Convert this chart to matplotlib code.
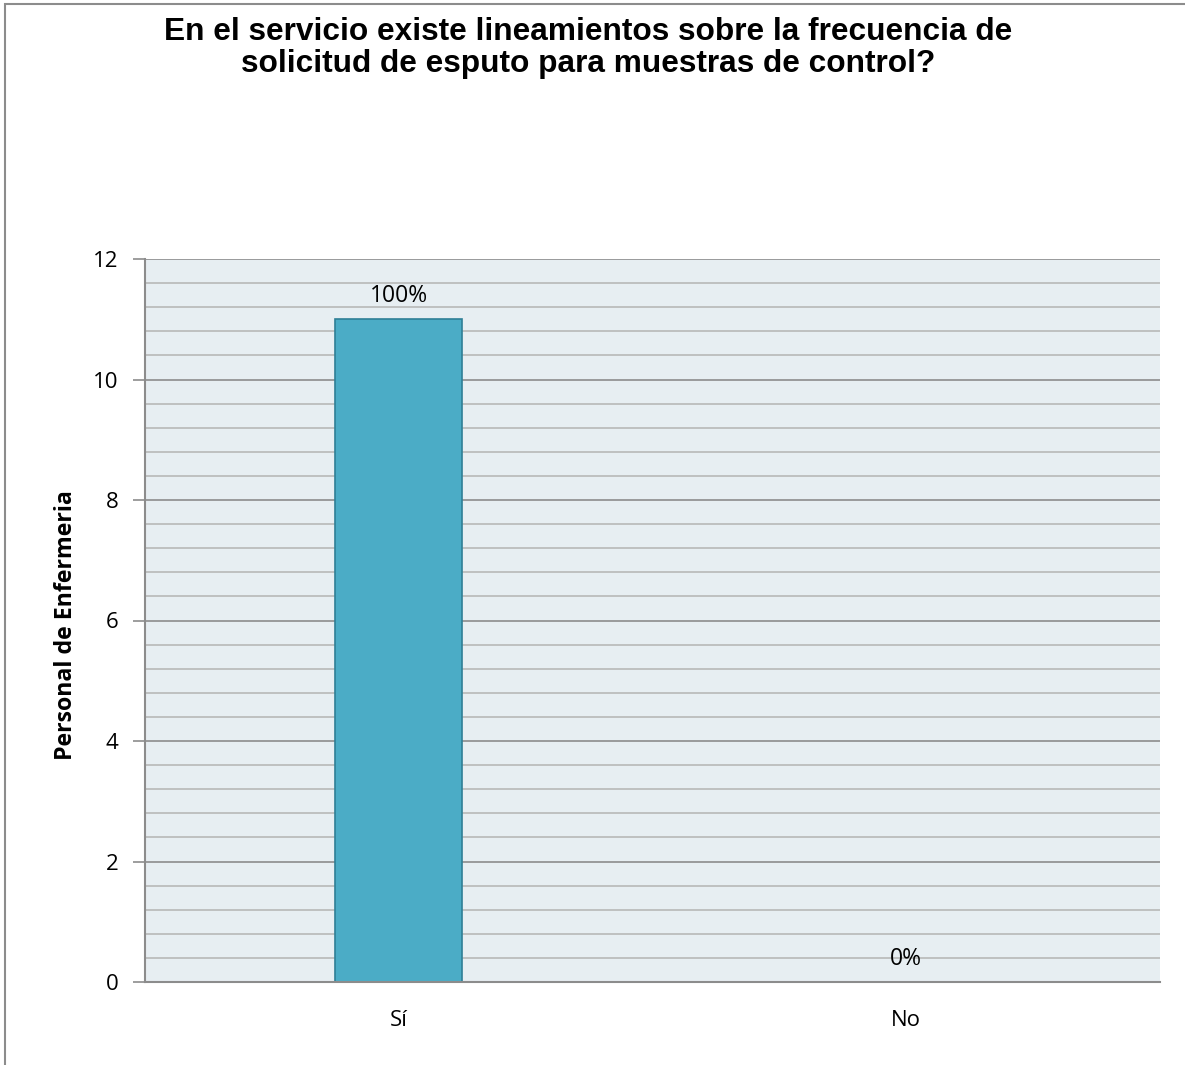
import matplotlib
matplotlib.use("Agg")
import matplotlib.pyplot as plt
from matplotlib.ticker import MultipleLocator
from matplotlib.patches import Rectangle

categories = ["Sí", "No"]
values = [11, 0]
pct_labels = ["100%", "0%"]
title = "En el servicio existe lineamientos sobre la frecuencia de\nsolicitud de esputo para muestras de control?"
ylabel = "Personal de Enfermeria"

fig = plt.figure(figsize=(11.85, 10.65), dpi=100)
W, H = 1185, 1065
# figure border (left & top visible)
fig.add_artist(Rectangle((5 / W, -0.1), 1.2, (1065 - 4) / H + 0.1, transform=fig.transFigure,
                         fill=False, edgecolor="#8c8c8c", linewidth=1.5))

left, right, top, bottom = 145, 1160, 259, 982
ax = fig.add_axes([left / W, 1 - bottom / H, (right - left) / W, (bottom - top) / H])
ax.set_facecolor("#E7EEF2")

x = list(range(len(categories)))
bars = ax.bar(x, values, width=0.25, color="#4BACC6", edgecolor="#2F7F96", linewidth=1.2, zorder=3)

ax.set_xlim(-0.5, 1.5)
ax.set_ylim(0, 12)
ax.yaxis.set_major_locator(MultipleLocator(2))
ax.yaxis.set_minor_locator(MultipleLocator(0.4))
ax.grid(which="major", axis="y", color="#8C8C8C", linewidth=1.2, zorder=1)
ax.grid(which="minor", axis="y", color="#B8B8B8", linewidth=1.2, zorder=1)
ax.tick_params(axis="y", which="minor", length=0)
ax.tick_params(axis="y", which="major", length=9, width=1.2, color="#8C8C8C", pad=10,
               labelsize=16)
ax.tick_params(axis="x", length=0, pad=20, labelsize=16)
ax.set_xticks(x)
ax.set_xticklabels(categories, fontfamily="Open Sans")
for lab in ax.get_yticklabels():
    lab.set_fontfamily("Open Sans")

for s in ["top", "right"]:
    ax.spines[s].set_visible(False)
for s in ["left", "bottom"]:
    ax.spines[s].set_color("#8C8C8C")
    ax.spines[s].set_linewidth(1.5)
    ax.spines[s].set_zorder(5)

for xi, v, lab in zip(x, values, pct_labels):
    ax.annotate(lab, (xi, v), xytext=(0, 8), textcoords="offset points",
                ha="center", va="bottom", fontsize=16.5, fontfamily="Open Sans", zorder=4)

ax.set_ylabel(ylabel, fontsize=16.7, fontweight="bold", fontfamily="Open Sans")
ax.yaxis.set_label_coords(-0.066, 0.493)

fig.text(588 / W, 1 - 48 / H, title, ha="center", va="center", fontsize=22.8,
         fontweight="bold", fontfamily="Liberation Sans", linespacing=1.05)

fig.savefig("out.png", dpi=100)
